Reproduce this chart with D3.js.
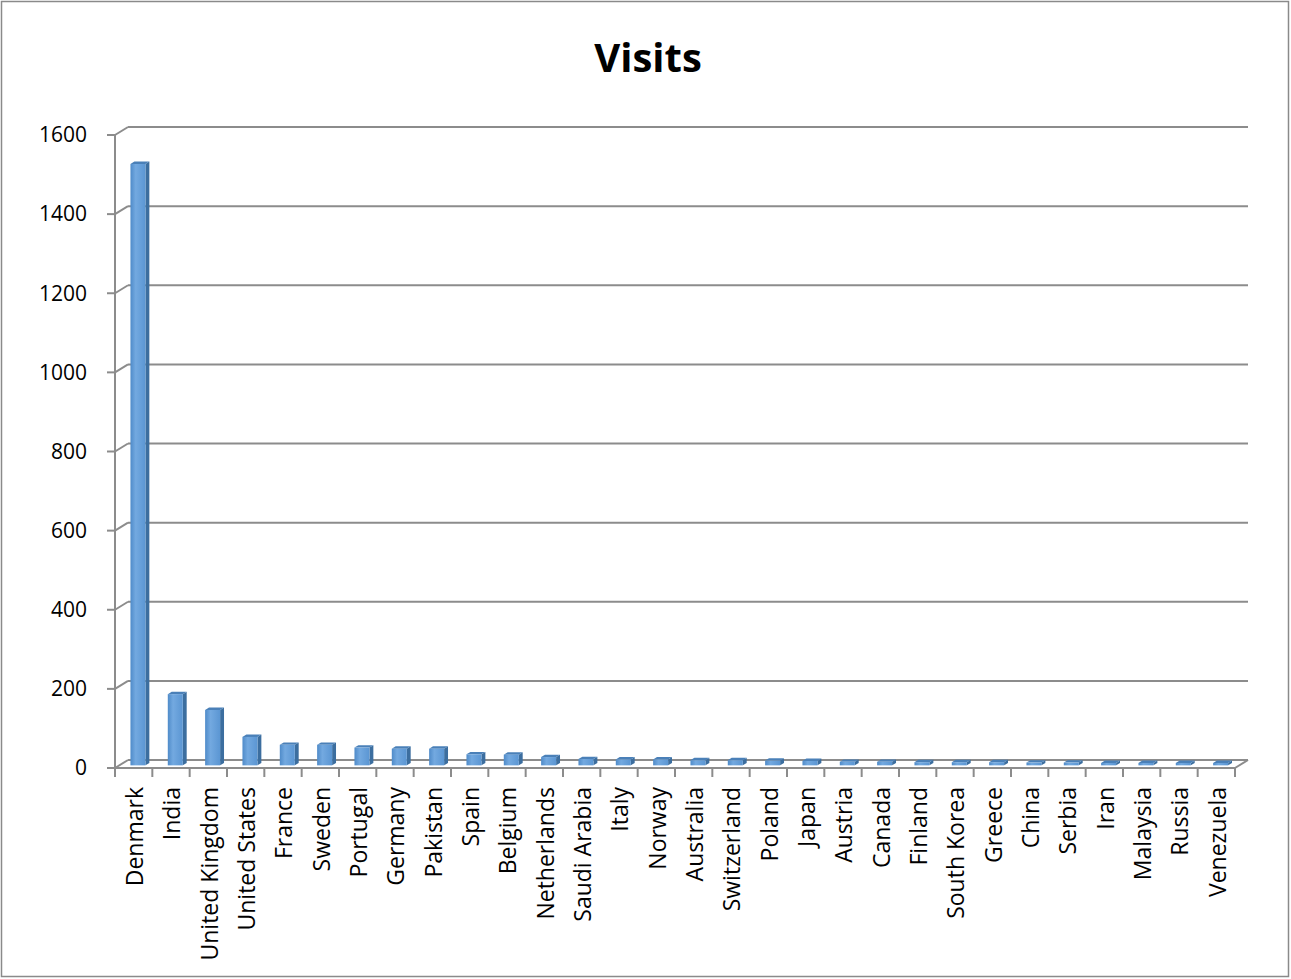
<!DOCTYPE html>
<html>
<head>
<meta charset="utf-8">
<script src="https://cdn.jsdelivr.net/npm/d3@7"></script>
<style>
  html, body { margin: 0; padding: 0; background: #fff; }
  svg { display: block; font-family: "Open Sans", sans-serif; }
</style>
</head>
<body>
<div id="chart"></div>
<script>
// data
const countries = ["Denmark", "India", "United Kingdom", "United States", "France", "Sweden",
  "Portugal", "Germany", "Pakistan", "Spain", "Belgium", "Netherlands", "Saudi Arabia", "Italy",
  "Norway", "Australia", "Switzerland", "Poland", "Japan", "Austria", "Canada", "Finland",
  "South Korea", "Greece", "China", "Serbia", "Iran", "Malaysia", "Russia", "Venezuela"];
const visits = [1520, 180, 140, 72, 52, 52, 45, 42, 42, 28, 27, 21, 16, 15, 15, 13, 13, 12, 11,
  9, 9, 8, 8, 8, 7, 7, 6, 6, 6, 6];
const yTicks = [0, 200, 400, 600, 800, 1000, 1200, 1400, 1600];

const W = 1291, H = 979;
const depthX = 13, depthY = -8;      // offset of the back wall
const faceAt = 0.33, backAt = 0.63; // where bars sit inside the depth

const svg = d3.select("#chart").append("svg")
  .attr("width", W).attr("height", H);

const defs = svg.append("defs");
const grad = defs.append("linearGradient").attr("id", "barFace")
  .attr("x1", 0).attr("x2", 1).attr("y1", 0).attr("y2", 0);
grad.append("stop").attr("offset", "0%").attr("stop-color", "#4f8bc9");
grad.append("stop").attr("offset", "35%").attr("stop-color", "#73a9e0");
grad.append("stop").attr("offset", "100%").attr("stop-color", "#5b96d3");

// chart border
svg.append("rect")
  .attr("x", 1.5).attr("y", 1.5).attr("width", W - 4).attr("height", H - 4)
  .attr("fill", "#fff").attr("stroke", "#8a8a8a").attr("stroke-width", 1.5);

const x = d3.scaleBand().domain(countries).range([115, 1235]).padding(0);
const y = d3.scaleLinear().domain([0, 1600]).range([768, 135]);

const gridColor = "#8c8c8c";

// back wall gridlines + left wall diagonals + ticks
const grid = svg.append("g");
yTicks.forEach(t => {
  const yf = y(t);
  grid.append("line")
    .attr("x1", 115 + depthX).attr("x2", 1235 + depthX)
    .attr("y1", yf + depthY).attr("y2", yf + depthY)
    .attr("stroke", gridColor).attr("stroke-width", 2);
  grid.append("line")
    .attr("x1", 115).attr("x2", 115 + depthX)
    .attr("y1", yf).attr("y2", yf + depthY)
    .attr("stroke", gridColor).attr("stroke-width", 2);
  grid.append("line")
    .attr("x1", 107).attr("x2", 115)
    .attr("y1", yf).attr("y2", yf)
    .attr("stroke", gridColor).attr("stroke-width", 2);
});

// y axis line
svg.append("line")
  .attr("x1", 115).attr("x2", 115).attr("y1", y(1600)).attr("y2", y(0))
  .attr("stroke", gridColor).attr("stroke-width", 2);

// floor: front edge, right edge, ticks
svg.append("line")
  .attr("x1", 115).attr("x2", 1235).attr("y1", y(0)).attr("y2", y(0))
  .attr("stroke", gridColor).attr("stroke-width", 2);
svg.append("line")
  .attr("x1", 1235).attr("x2", 1235 + depthX).attr("y1", y(0)).attr("y2", y(0) + depthY)
  .attr("stroke", gridColor).attr("stroke-width", 2);
countries.forEach((c, i) => {
  const xt = x(c) + x.bandwidth();
  svg.append("line")
    .attr("x1", xt).attr("x2", xt).attr("y1", y(0)).attr("y2", y(0) + 9)
    .attr("stroke", gridColor).attr("stroke-width", 2);
});
svg.append("line")
  .attr("x1", 115).attr("x2", 115).attr("y1", y(0)).attr("y2", y(0) + 9)
  .attr("stroke", gridColor).attr("stroke-width", 2);

// bars (3d boxes)
const faceW = 15;
const sideDx = (backAt - faceAt) * depthX, sideDy = (backAt - faceAt) * depthY;
const bars = svg.append("g").selectAll("g").data(countries).enter().append("g")
  .attr("transform", (d, i) => {
    const cx = x(d) + x.bandwidth() / 2 + faceAt * depthX;
    return `translate(${cx - faceW / 2},${faceAt * depthY})`;
  });

bars.each(function (d, i) {
  const g = d3.select(this);
  const top = y(visits[i]), base = y(0);
  // side
  g.append("path")
    .attr("d", `M${faceW},${base} L${faceW + sideDx},${base + sideDy} L${faceW + sideDx},${top + sideDy} L${faceW},${top} Z`)
    .attr("fill", "#3c6e9f");
  // top
  g.append("path")
    .attr("d", `M0,${top} L${sideDx},${top + sideDy} L${faceW + sideDx},${top + sideDy} L${faceW},${top} Z`)
    .attr("fill", "#4a80b8");
  // face
  g.append("rect")
    .attr("x", 0).attr("y", top).attr("width", faceW).attr("height", base - top)
    .attr("fill", "url(#barFace)");
});

// y labels
svg.append("g").selectAll("text").data(yTicks).enter().append("text")
  .attr("x", 87).attr("y", d => y(d)).attr("dy", "0.35em")
  .attr("text-anchor", "end").attr("font-size", 21).attr("fill", "#000")
  .text(d => d);

// x labels
svg.append("g").selectAll("text").data(countries).enter().append("text")
  .attr("transform", d => `translate(${x(d) + x.bandwidth() / 2 + 1},787) rotate(-90)`)
  .attr("dy", "0.36em")
  .attr("text-anchor", "end").attr("font-size", 23).attr("fill", "#000")
  .text(d => d);

// title
svg.append("text")
  .attr("x", 648).attr("y", 72).attr("text-anchor", "middle")
  .attr("font-size", 40).attr("font-weight", "bold").attr("fill", "#000")
  .text("Visits");
</script>
</body>
</html>
